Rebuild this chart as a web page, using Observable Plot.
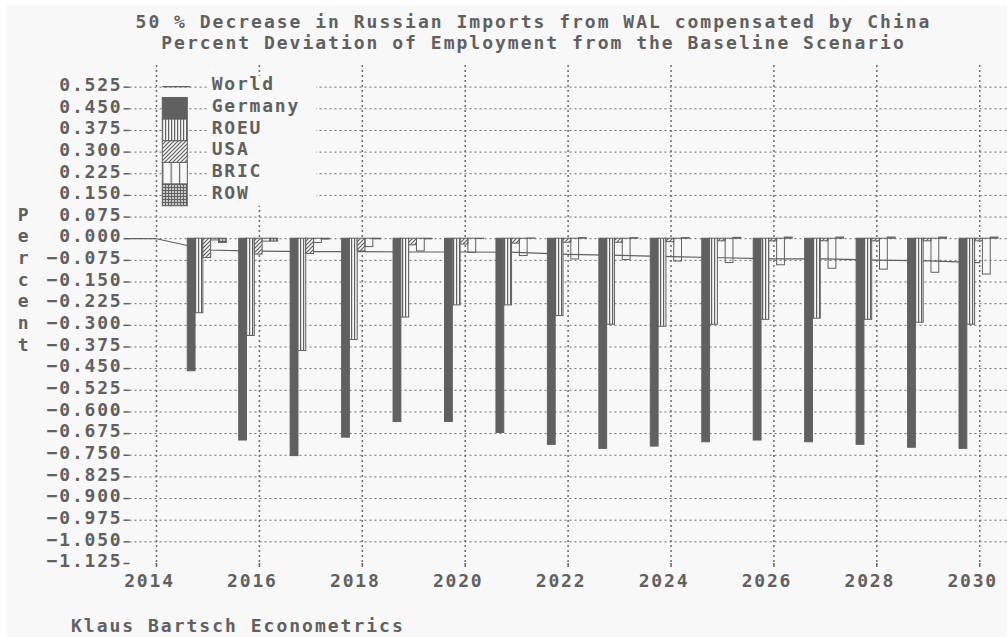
<!DOCTYPE html>
<html>
<head>
<meta charset="utf-8">
<script src="https://cdn.jsdelivr.net/npm/d3@7"></script>
<script src="https://cdn.jsdelivr.net/npm/@observablehq/plot@0.6"></script>
<style>
  html, body { margin: 0; padding: 0; background: #ffffff; }
  body { width: 1007px; height: 637px; position: relative; overflow: hidden;
         font-family: "DejaVu Sans Mono", monospace; font-weight: bold; color: #606060; }
  #bg { position: absolute; left: 7px; top: 5px; right: 0; bottom: 0; background: #f8f8f8; }
  .line { position: absolute; left: 60px; width: 947px; text-align: center; font-size: 18px;
          line-height: 21px; letter-spacing: 2px; white-space: pre; }
  #chart { position: absolute; left: 0; top: 55px; }
  #chart svg text { letter-spacing: 1.8px; }
  #footer { position: absolute; left: 71px; top: 615px; font-size: 18px; line-height: 21px;
            letter-spacing: 2px; white-space: pre; }
</style>
</head>
<body>
<div id="bg"></div>
<div class="line" id="t1" style="top:11px"></div>
<div class="line" id="t2" style="top:32px"></div>
<div id="chart"></div>
<div id="footer"></div>
<script>
// ---------- text ----------
const titleLines = [
  "50 % Decrease in Russian Imports from WAL compensated by China",
  "Percent Deviation of Employment from the Baseline Scenario"
];
const footerText = "Klaus Bartsch Econometrics";
const yLabelLetters = ["P", "e", "r", "c", "e", "n", "t"];

// ---------- ticks ----------
const xTicks = [2014, 2016, 2018, 2020, 2022, 2024, 2026, 2028, 2030];
const yTicks = [0.525, 0.45, 0.375, 0.3, 0.225, 0.15, 0.075, 0, -0.075, -0.15, -0.225, -0.3,
                -0.375, -0.45, -0.525, -0.6, -0.675, -0.75, -0.825, -0.9, -0.975, -1.05, -1.125];

// ---------- data ----------
const barYears = [2015, 2016, 2017, 2018, 2019, 2020, 2021, 2022, 2023, 2024, 2025, 2026, 2027, 2028, 2029, 2030];
const germany = [-0.459, -0.699, -0.753, -0.689, -0.635, -0.635, -0.673, -0.714, -0.728, -0.720, -0.705, -0.699, -0.705, -0.714, -0.724, -0.728];
const roeu    = [-0.258, -0.337, -0.389, -0.351, -0.273, -0.231, -0.231, -0.268, -0.298, -0.305, -0.298, -0.281, -0.277, -0.281, -0.291, -0.298];
const usa     = [-0.067, -0.055, -0.053, -0.044, -0.023, -0.020, -0.017, -0.014, -0.014, -0.012, -0.009, -0.009, -0.009, -0.009, -0.009, -0.009];
const bric    = [-0.006, -0.010, -0.015, -0.029, -0.044, -0.049, -0.060, -0.072, -0.074, -0.079, -0.084, -0.092, -0.104, -0.107, -0.118, -0.124];
const row     = [-0.015, -0.010, -0.003, -0.002, -0.002, -0.001, 0.001, 0.002, 0.002, 0.002, 0.003, 0.004, 0.004, 0.004, 0.004, 0.004];

const worldYears = [2013, 2014, 2015, 2016, 2017, 2018, 2019, 2020, 2021, 2022, 2023, 2024, 2025, 2026, 2027, 2028, 2029, 2030];
const world      = [0, 0, -0.039, -0.043, -0.045, -0.045, -0.046, -0.046, -0.047, -0.054, -0.058, -0.062, -0.066, -0.070, -0.070, -0.074, -0.077, -0.083];

const seriesNames = ["World", "Germany", "ROEU", "USA", "BRIC", "ROW"];

// ---------- style ----------
const INK = "#606060";
const LIGHT = "#f8f8f8";
const GRID = "#6a6a6a";
const FONT = "'DejaVu Sans Mono', monospace";
const BAR_W = 0.1516;      // bar width in years
const GROUP_OFF = 0.3926;  // offset of first bar from year centre

document.getElementById("t1").textContent = titleLines[0];
document.getElementById("t2").textContent = titleLines[1];
document.getElementById("footer").textContent = footerText;

const fills = {Germany: INK, ROEU: "url(#pat-roeu)", USA: "url(#pat-usa)", BRIC: "none", ROW: "url(#pat-row)"};
const barSeries = [["Germany", germany], ["ROEU", roeu], ["USA", usa], ["BRIC", bric], ["ROW", row]];

const barMarks = barSeries.map(([name, vals], i) => {
  const data = barYears.map((yr, j) => ({year: yr, value: vals[j]}));
  return Plot.rectY(data, {
    x1: d => d.year - GROUP_OFF + i * BAR_W,
    x2: d => d.year - GROUP_OFF + (i + 1) * BAR_W,
    y1: 0,
    y2: "value",
    fill: fills[name],
    stroke: INK,
    strokeWidth: 1
  });
});

const worldData = worldYears.map((yr, j) => ({year: yr, value: world[j]}));
const blank = () => "";

const chart = Plot.plot({
  width: 1007,
  height: 560,
  marginTop: 10,
  marginBottom: 52,
  marginLeft: 129.5,
  marginRight: 0,
  x: {domain: [2013.485, 2030.54], label: null},
  y: {domain: [-1.125, 0.6], label: null},
  style: {background: "transparent", color: INK, fontFamily: FONT, fontSize: "18px", fontWeight: "bold", overflow: "visible"},
  marks: [
    Plot.ruleY(yTicks.slice(0, -1), {stroke: GRID, strokeWidth: 1, strokeDasharray: "2,3"}),
    Plot.ruleX(xTicks, {stroke: GRID, strokeWidth: 1.5, strokeDasharray: "2,3"}),
    Plot.line(worldData, {x: "year", y: "value", stroke: INK, strokeWidth: 1.2, clip: true}),
    ...barMarks,
    Plot.axisY({ticks: yTicks, tickSize: 6, tickFormat: blank, label: null, line: true, stroke: INK, strokeWidth: 1.5}),
    Plot.axisY({ticks: yTicks, tickSize: 0, tickPadding: 7.5, dy: -2, label: null, tickFormat: d => d3.format(".3f")(d), fill: INK}),
    Plot.axisX({ticks: xTicks, tickSize: 4, tickFormat: blank, label: null, line: true, stroke: INK, strokeWidth: 1.5}),
    Plot.axisX({ticks: xTicks, tickSize: 0, tickPadding: 11, dx: -7, label: null, tickFormat: d => String(d), fill: INK}),
    Plot.text(yLabelLetters, {y: (d, i) => yTicks[6 + i], text: d => d, frameAnchor: "left", dx: -106, dy: -2, textAnchor: "middle", fill: INK})
  ]
});

document.getElementById("chart").appendChild(chart);

// ---------- patterns ----------
const svg = d3.select(chart);
const defs = svg.insert("defs", ":first-child");
const pRoeu = defs.append("pattern").attr("id", "pat-roeu").attr("patternUnits", "userSpaceOnUse").attr("width", 3).attr("height", 6);
pRoeu.append("rect").attr("width", 3).attr("height", 6).attr("fill", LIGHT);
pRoeu.append("rect").attr("width", 1.2).attr("height", 6).attr("fill", INK);
const pUsa = defs.append("pattern").attr("id", "pat-usa").attr("patternUnits", "userSpaceOnUse").attr("width", 4).attr("height", 4);
pUsa.append("rect").attr("width", 4).attr("height", 4).attr("fill", LIGHT);
pUsa.append("path").attr("d", "M-1,1 l2,-2 M0,4 l4,-4 M3,5 l2,-2").attr("stroke", INK).attr("stroke-width", 1.2);
const pRow = defs.append("pattern").attr("id", "pat-row").attr("patternUnits", "userSpaceOnUse").attr("width", 3).attr("height", 3);
pRow.append("rect").attr("width", 3).attr("height", 3).attr("fill", "#c8c8c8");
pRow.append("rect").attr("width", 3).attr("height", 1).attr("fill", INK);
pRow.append("rect").attr("width", 1).attr("height", 3).attr("fill", INK);
const pBric = defs.append("pattern").attr("id", "pat-bric").attr("patternUnits", "userSpaceOnUse").attr("width", 8.3).attr("height", 6).attr("x", 162.3);
pBric.append("rect").attr("width", 8.3).attr("height", 6).attr("fill", LIGHT);
pBric.append("rect").attr("width", 1.2).attr("height", 6).attr("fill", INK);

// ---------- legend ----------
const ys = chart.scale("y");
const rows = yTicks.slice(0, seriesNames.length);
const rowH = Math.abs(ys.apply(rows[1]) - ys.apply(rows[0]));
const SW_X = 162.3, SW_W = 25, TXT_X = 211.7, BOX_X0 = 208, BOX_X1 = 316;
const lg = svg.append("g").attr("text-anchor", "start");
lg.append("rect")
  .attr("x", BOX_X0).attr("width", BOX_X1 - BOX_X0)
  .attr("y", ys.apply(rows[0]) - rowH / 2)
  .attr("height", ys.apply(rows[rows.length - 1]) - ys.apply(rows[0]) + rowH)
  .attr("fill", LIGHT);
const legendFill = {Germany: INK, ROEU: "url(#pat-roeu)", USA: "url(#pat-usa)", BRIC: "url(#pat-bric)", ROW: "url(#pat-row)"};
seriesNames.forEach((name, i) => {
  const cy = ys.apply(rows[i]);
  if (name === "World") {
    lg.append("line").attr("x1", SW_X).attr("x2", SW_X + 28).attr("y1", cy).attr("y2", cy)
      .attr("stroke", INK).attr("stroke-width", 1.3);
  } else {
    lg.append("rect").attr("x", SW_X).attr("width", SW_W).attr("y", cy - rowH / 2).attr("height", rowH)
      .attr("fill", legendFill[name]).attr("stroke", INK).attr("stroke-width", 1);
  }
  lg.append("text").attr("x", TXT_X).attr("y", cy).attr("dy", "0.32em").attr("transform", "translate(0,-2)")
    .attr("text-anchor", "start").attr("fill", INK).text(name);
});
</script>
</body>
</html>
